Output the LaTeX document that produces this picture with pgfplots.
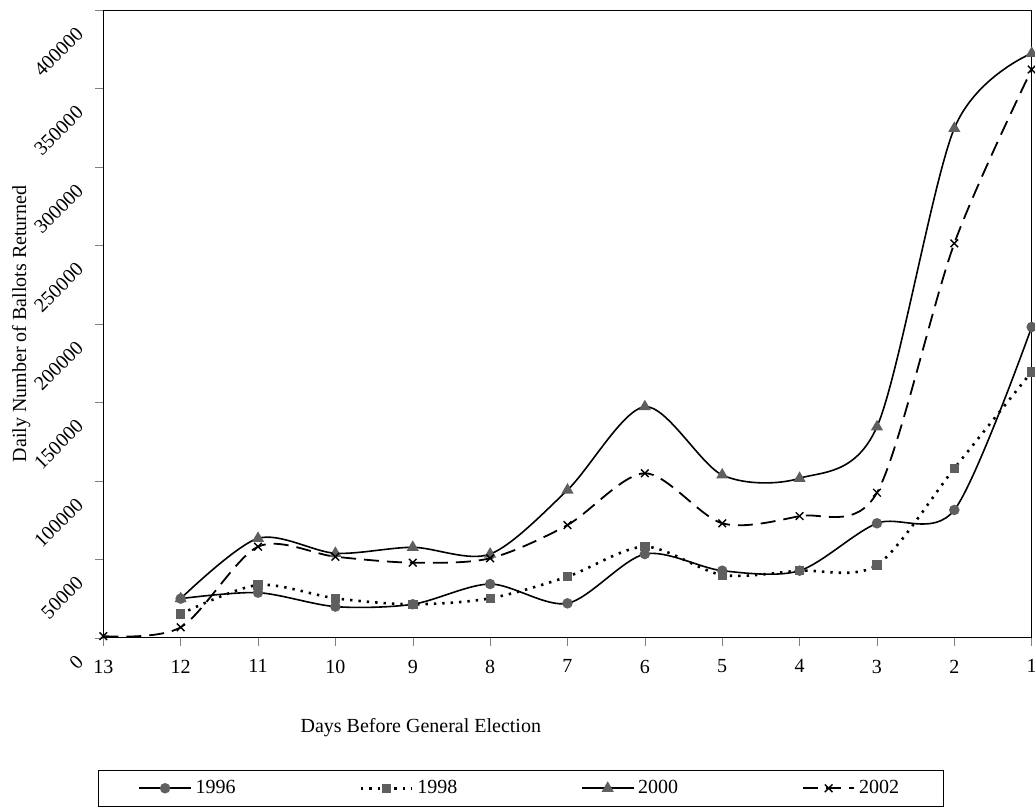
\documentclass[border=0pt]{standalone}
\usepackage{fontspec}
\setmainfont{Liberation Serif}
\usepackage{pgfplots}
\pgfplotsset{compat=1.18}
\definecolor{markgray}{RGB}{95,95,95}

\begin{document}
\begin{tikzpicture}
\begin{axis}[
    scale only axis,
    width=464.2pt, height=313.85pt,
    xmin=1, xmax=13, x dir=reverse,
    ymin=0, ymax=400000,
    xtick={1,...,13},
    ytick={0,50000,...,400000},
    scaled y ticks=false,
    /pgf/number format/assume math mode=true,
    yticklabel style={/pgf/number format/fixed, /pgf/number format/1000 sep={},
        xshift=-5.2pt, yshift=-7.9pt, rotate=45, anchor=east},
    xticklabel style={yshift=-3.5pt},
    tick align=outside, tick pos=left,
    major tick length=4pt,
    ylabel={Daily Number of Ballots Returned},
    ylabel style={at={(axis description cs:-0.0883,0.5)}, anchor=center},
    xlabel={Days Before General Election},
    xlabel style={at={(axis description cs:0.342,0)}, anchor=center, yshift=-45pt},
    legend columns=4,
    legend style={at={(axis description cs:0,0)}, anchor=north west,
        xshift=-2.5pt, yshift=-66pt, draw=black, inner xsep=20pt, inner ysep=3pt,
        /tikz/every even column/.append style={column sep=60pt}},
    legend image code/.code={\draw[mark repeat=2,mark phase=2]
        plot coordinates {(0cm,0cm) (0.45cm,0cm) (0.9cm,0cm)};},
    every axis plot/.append style={smooth, black, line width=0.8pt},
]
% 1996
\addplot[mark=*, mark size=2.2pt, mark options={fill=markgray, draw=markgray, solid}] coordinates {
    (12,24900) (11,28700) (10,19800) (9,21300) (8,34200) (7,21900)
    (6,53300) (5,42700) (4,42700) (3,72900) (2,81400) (1,198000)
};
\addlegendentry{1996}
% 1998
\addplot[line width=1.3pt, dash pattern=on 1.2pt off 3pt,
    mark=square*, mark size=2.1pt, mark options={fill=markgray, draw=markgray, solid, line width=0.4pt}] coordinates {
    (12,15100) (11,33600) (10,25100) (9,21300) (8,25100) (7,38900)
    (6,58000) (5,40000) (4,42700) (3,46300) (2,107900) (1,169500)
};
\addlegendentry{1998}
% 2000
\addplot[mark=triangle*, mark size=2.7pt, mark options={fill=markgray, draw=markgray, solid}] coordinates {
    (12,24900) (11,63300) (10,53800) (9,57600) (8,53300) (7,94100)
    (6,147200) (5,103700) (4,101600) (3,134400) (2,324600) (1,372400)
};
\addlegendentry{2000}
% 2002
\addplot[line width=0.9pt, dash pattern=on 7.5pt off 4pt,
    mark=x, mark size=2.7pt, mark options={solid, line width=0.7pt}] coordinates {
    (13,1000) (12,6600) (11,58000) (10,51600) (9,47800) (8,50600) (7,71800)
    (6,104800) (5,72900) (4,77500) (3,92400) (2,251300) (1,362100)
};
\addlegendentry{2002}
\coordinate (bl) at (axis description cs:0,0);
\coordinate (tr) at (axis description cs:1,1);
\end{axis}
\pgfresetboundingbox
\path[use as bounding box] ([shift={(-51.65pt,-86.15pt)}]bl) rectangle ([shift={(1.65pt,5pt)}]tr);
\end{tikzpicture}
\end{document}
